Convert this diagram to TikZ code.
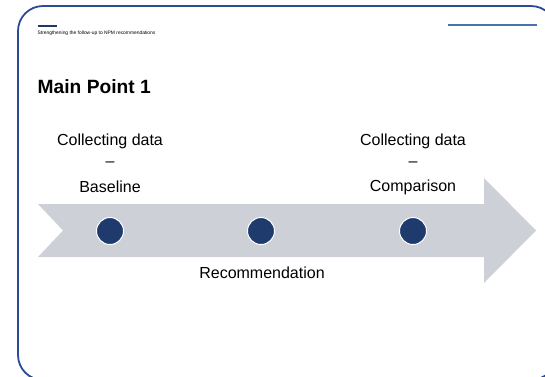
\documentclass[tikz,border=0pt]{standalone}
\usepackage{fontspec}
\setmainfont{Liberation Sans}
\definecolor{framecol}{HTML}{2B4A98}
\definecolor{navy}{HTML}{1F3B6E}
\definecolor{darkline}{HTML}{1F3864}
\definecolor{steel}{HTML}{4A72B0}
\definecolor{arrowgray}{HTML}{CDD0D6}
\begin{document}
\begin{tikzpicture}[x=1pt,y=-1pt,
  lbl/.style={inner sep=0pt,anchor=center,font=\fontsize{16}{19}\selectfont},
  dot/.style={circle,fill=navy,draw=white,line width=1pt,minimum size=27pt,inner sep=0pt}]
\useasboundingbox (0,0) rectangle (545,376);
\begin{scope}
\clip (0,0) rectangle (545,376);
\draw[framecol,line width=1.8pt,rounded corners=25pt] (18,6) rectangle (556,380);
\end{scope}
% header lines
\draw[darkline,line width=2pt] (37.5,25.5) -- (57,25.5);
\draw[steel,line width=2.5pt] (448,25) -- (537,25);
\node[inner sep=0pt,anchor=west,font=\fontsize{4.9}{6}\selectfont] (hdr) at (37.5,33.5) {Strengthening the follow-up to NPM recommendations};
\node[inner sep=0pt,anchor=west,font=\fontsize{19.2}{23}\selectfont\bfseries] (title) at (37.5,87) {Main Point 1};
% arrow
\fill[arrowgray] (38,204) -- (484,204) -- (484,178) -- (536,230.5) -- (484,283) -- (484,257) -- (38,257) -- (63,230.5) -- cycle;
% dots
\node[dot] (d1) at (110,231) {};
\node[dot] (d2) at (261,231) {};
\node[dot] (d3) at (413,231) {};
% labels
\node[lbl] (c1) at (110,141) {Collecting data};
\node[lbl] (s1) at (110,164) {–};
\node[lbl] (b1) at (110,187) {Baseline};
\node[lbl] (c3) at (413,141) {Collecting data};
\node[lbl] (s3) at (413,164) {–};
\node[lbl] (b3) at (413,187) {Comparison};
\node[lbl] (r2) at (262,273) {Recommendation};
\end{tikzpicture}
\end{document}
